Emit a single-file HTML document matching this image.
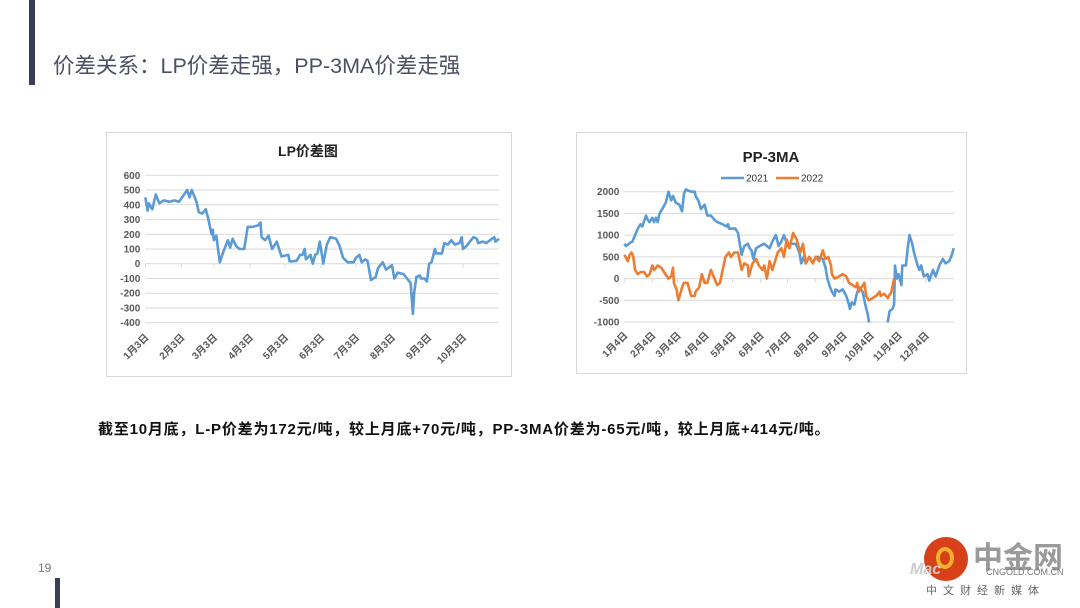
<!DOCTYPE html>
<html><head><meta charset="utf-8">
<style>
body{margin:0;width:1080px;height:608px;background:#fff;position:relative;overflow:hidden;font-family:"Liberation Sans","Noto Sans CJK SC",sans-serif;}
.abs{position:absolute;}
</style></head>
<body>
<div class="abs" style="left:29px;top:0;width:6px;height:85px;background:#3a3f58"></div>
<div class="abs" style="left:53px;top:49px;font-size:21.5px;color:#4b5162;white-space:nowrap">价差关系：LP价差走强，PP-3MA价差走强</div>
<div class="abs" style="left:98px;top:418px;font-size:15px;letter-spacing:0.8px;font-weight:bold;color:#111;white-space:nowrap">截至10月底，L-P价差为172元/吨，较上月底+70元/吨，PP-3MA价差为-65元/吨，较上月底+414元/吨。</div>
<div class="abs" style="left:38px;top:561px;font-size:12px;color:#777">19</div>
<div class="abs" style="left:55px;top:578px;width:5px;height:30px;background:#3a3f58"></div>
<div class="abs" style="left:920px;top:535px;width:160px;height:73px">
  <div style="position:absolute;left:4px;top:2px;width:44px;height:44px;border-radius:50%;background:#d8401a"></div>
  <div style="position:absolute;left:16px;top:12px;width:18px;height:22px;border-radius:50%;border:4px solid #f3b12a;box-sizing:border-box"></div>
  <div style="position:absolute;left:53px;top:-2px;font-size:30px;font-weight:bold;color:#9a9a9a">中金网</div>
  <div style="position:absolute;left:66px;top:32px;font-size:9px;color:#777">CNGOLD.COM.CN</div>
  <div style="position:absolute;left:-10px;top:26px;font-size:16px;font-style:italic;font-weight:bold;color:#ccc">Mac</div>
  <div style="position:absolute;left:6px;top:47px;font-size:11px;letter-spacing:6px;color:#666">中文财经新媒体</div>
</div>

<svg class="abs" style="left:0;top:0" width="1080" height="608">
  <defs>
    <clipPath id="ppclip"><rect x="620" y="185" width="340" height="137.5"/></clipPath>
  </defs>
  <g id="lp"></g>
  <g id="pp"></g>
</svg>

<script>
// LP spread data
const lpDays=[0,2,3,6,9,12,16,21,25,29,36,38,40,44,46,49,52,54,57,58,59,61,64,67,71,73,75,78,81,85,88,92,97,99,100,103,106,109,113,117,123,124,130,133,135,137,138,142,144,146,148,150,153,156,159,164,167,170,174,179,181,184,186,189,191,194,198,200,204,207,212,214,217,222,226,228,230,231,233,236,237,240,242,244,246,249,250,255,257,260,263,266,270,272,273,276,282,285,286,290,293,298,300,301,304];
const lpVals=[450,360,410,370,470,410,430,420,430,420,500,450,500,420,350,340,370,310,200,230,160,190,10,80,160,110,170,120,100,100,250,250,260,280,180,160,190,100,150,50,60,15,20,60,60,100,30,60,0,60,70,150,0,130,180,170,120,40,10,10,40,60,10,30,20,-110,-90,-30,10,-40,-10,-100,-60,-70,-110,-130,-340,-200,-90,-80,-100,-100,-120,0,10,100,70,70,140,130,160,130,140,180,100,120,180,170,140,150,140,170,180,150,170];
const lpYTicks=[600,500,400,300,200,100,0,-100,-200,-300,-400];
const lpXLabels=["1月3日","2月3日","3月3日","4月3日","5月3日","6月3日","7月3日","8月3日","9月3日","10月3日"];
const lpXTickDays=[0,31,59,90,120,151,181,212,243,273];

// PP-3MA data
const pp21Days=[0,2,6,9,11,15,18,20,24,26,28,31,33,35,37,39,42,46,49,52,54,57,61,64,66,68,74,78,79,82,85,89,92,96,100,103,109,113,115,116,123,126,130,133,137,139,141,143,146,150,155,161,164,168,171,174,177,181,185,190,194,196,199,201,205,209,212,215,220,223,225,228,230,233,234,238,242,246,249,250,252,255,257,260,264,267,270,271,274,288,292,294,297,299,300,302,304,307,308,312,314,316,319,321,325,327,329,332,336,338,342,345,349,353,356,360,363,365];
const pp21Vals=[800,750,820,850,950,1150,1250,1200,1450,1350,1300,1400,1300,1400,1300,1500,1600,1750,2000,1800,1900,1750,1700,1550,1950,2050,2000,2000,1900,1800,1600,1700,1450,1450,1350,1300,1250,1200,1250,1150,1150,1050,550,750,800,700,650,450,700,750,800,700,850,1000,750,850,1000,750,800,800,600,350,500,350,500,350,500,500,450,250,0,-200,-300,-400,-250,-300,-250,-400,-600,-700,-550,-600,-400,-200,-300,-600,-850,-1000,-1100,-1100,-1000,-750,-700,-600,300,0,100,-150,300,300,700,1000,800,600,300,200,300,50,100,-50,200,50,300,450,350,400,550,700];
const pp22Days=[0,4,6,8,10,12,15,18,22,25,28,31,33,37,41,44,49,52,54,55,58,60,64,66,70,74,78,79,83,86,89,92,96,100,103,106,109,112,116,118,122,126,128,130,133,137,138,142,146,149,153,155,158,161,164,167,170,174,177,180,183,187,191,195,198,201,205,209,212,216,220,223,226,229,230,233,238,242,246,249,253,257,258,260,263,266,268,271,275,279,283,284,288,292,296,299];
const pp22Vals=[550,400,550,600,500,200,100,150,150,50,100,300,200,300,250,150,0,50,250,-100,-250,-500,-200,-100,-100,-400,-400,-300,-200,100,-100,-100,200,0,-150,-100,200,500,600,500,600,600,400,200,350,300,50,350,450,300,200,300,0,400,200,400,600,700,500,900,700,1050,900,600,800,350,500,350,500,400,650,450,500,300,100,0,50,100,50,-100,-150,-200,-100,-300,-200,-100,-400,-500,-450,-400,-300,-400,-350,-450,-300,0];
const ppYTicks=[2000,1500,1000,500,0,-500,-1000];
const ppXLabels=["1月4日","2月4日","3月4日","4月4日","5月4日","6月4日","7月4日","8月4日","9月4日","10月4日","11月4日","12月4日"];
const ppXTickDays=[0,31,59,90,120,151,181,212,243,273,304,334];

const NS="http://www.w3.org/2000/svg";
function mk(parent,tag,attrs,text){const e=document.createElementNS(NS,tag);for(const k in attrs)e.setAttribute(k,attrs[k]);if(text!==undefined)e.textContent=text;parent.appendChild(e);return e;}

function drawChart(g,o){
  const box=mk(g,'rect',{x:o.box[0]+0.5,y:o.box[1]+0.5,width:o.box[2],height:o.box[3],fill:'#fff',stroke:'#d9d9d9'});
  
  
  const xs=d=>o.x0+(d-o.d0)*(o.x1-o.x0)/(o.d1-o.d0);
  const ys=v=>o.yTop+(o.vTop-v)*(o.yBot-o.yTop)/(o.vTop-o.vBot);
  const t=mk(g,'text',{x:o.titleX,y:o.titleY,'text-anchor':'middle','font-size':o.titleSize,'font-weight':'bold',fill:'#222'},o.title);
  
  
  o.yTicks.forEach(v=>{
    const l=mk(g,'line',{x1:o.x0,x2:o.x1,y1:ys(v),y2:ys(v),stroke:'#d9d9d9','stroke-width':1});
    
    
    const tx=mk(g,'text',{x:o.x0-5,y:ys(v)+3.5,'text-anchor':'end','font-size':10,'font-weight':'bold',fill:'#595959'},String(v));
    
    
  });
  const z=ys(0);
  o.xTickDays.forEach((d,i)=>{
    const x=xs(d);
    const tk=mk(g,'line',{x1:x,x2:x,y1:z,y2:z+4,stroke:'#d9d9d9'});
    
    
    const lb=mk(g,'text',{x:x+4,y:o.labY,'text-anchor':'end','font-size':10,'font-weight':'bold',fill:'#595959',transform:`rotate(-45 ${x+4} ${o.labY})`},o.xLabels[i]);
    
    
  });
  o.series.forEach(s=>{
    const pts=s.days.map((d,i)=>xs(d).toFixed(1)+','+ys(s.vals[i]).toFixed(1)).join(' ');
    const p=mk(g,'polyline',{points:pts,fill:'none',stroke:s.color,'stroke-width':2.6,'stroke-linejoin':'round'});
    if(o.clip)p.setAttribute('clip-path','url(#'+o.clip+')');
    
    
  });
}

drawChart(document.getElementById('lp'),{id:'lp',box:[106,132,405,244],title:'LP价差图',titleX:308,titleY:156,titleSize:14,
  x0:145.3,x1:499,d0:0,d1:304,yTop:175.3,yBot:322.7,vTop:600,vBot:-400,yTicks:lpYTicks,xTickDays:lpXTickDays,xLabels:lpXLabels,labY:338,
  series:[{days:lpDays,vals:lpVals,color:'#5b9bd5',name:'lp-spread-line'}]});

drawChart(document.getElementById('pp'),{id:'pp',box:[576,132,390,241],title:'PP-3MA',titleX:771,titleY:162,titleSize:15,
  x0:624.3,x1:953.7,d0:0,d1:365,yTop:191.7,yBot:322,vTop:2000,vBot:-1000,yTicks:ppYTicks,xTickDays:ppXTickDays,xLabels:ppXLabels,labY:336,clip:'ppclip',
  series:[{days:pp21Days,vals:pp21Vals,color:'#5b9bd5',name:'series-2021-line'},{days:pp22Days,vals:pp22Vals,color:'#ed7d31',name:'series-2022-line'}]});

// legend
const pg=document.getElementById('pp');
const leg=[["2021","#5b9bd5",721],["2022","#ed7d31",776]];
leg.forEach(([lab,c,x])=>{
  const l=mk(pg,'line',{x1:x,x2:x+23,y1:178,y2:178,stroke:c,'stroke-width':2.5});
  
  
  const t=mk(pg,'text',{x:x+25,y:181.5,'font-size':10,fill:'#333'},lab);
  
  
});
</script>
</body></html>
